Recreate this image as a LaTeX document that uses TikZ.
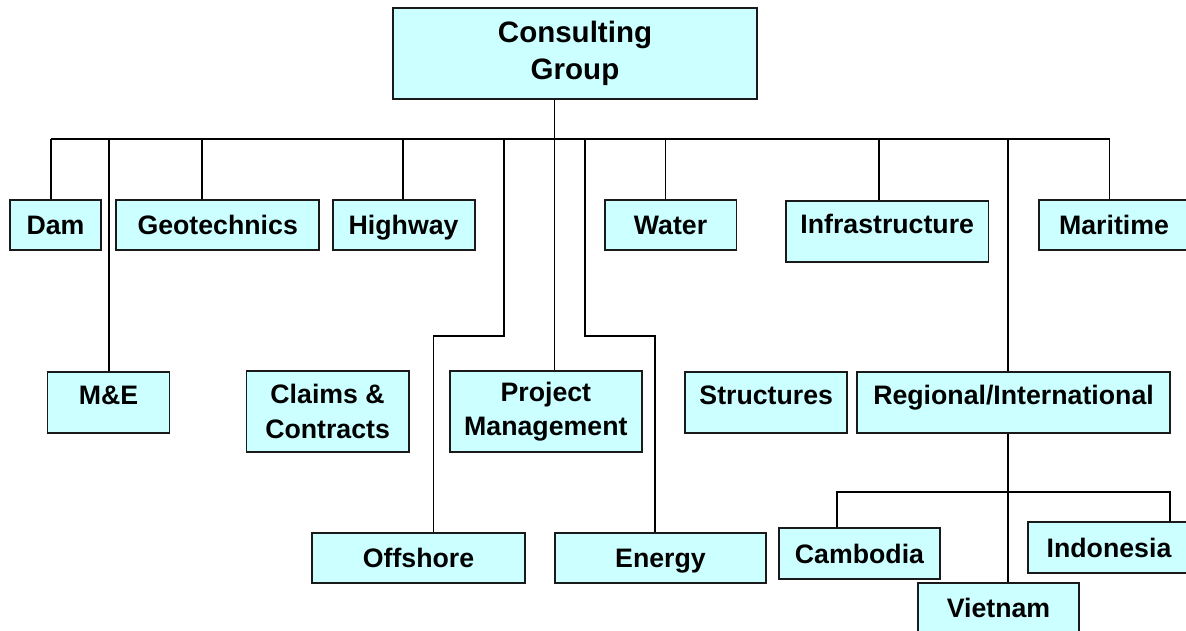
\documentclass[tikz,border=0pt]{standalone}
\usepackage{fontspec}
\setmainfont{Liberation Sans}
\definecolor{unitfill}{HTML}{CCFFFF}
\definecolor{unitline}{HTML}{1A1A1A}

\begin{document}
\begin{tikzpicture}[
    unit/.style={draw=unitline, line width=1.4pt, fill=unitfill, inner sep=0pt, align=center, font=\fontsize{19}{24.5}\selectfont\bfseries},
    oneline/.style={unit, minimum height=1.25cm, text height=13.6pt, text depth=0pt},
    twoline/.style={unit, minimum height=2.025cm},
    tallunit/.style={unit, anchor=north, text height=0.81cm, text depth=0.71cm},
    link/.style={line width=1pt, black}]
    \useasboundingbox (0,0) rectangle (29.65,15.775);
    \clip (0,0) rectangle (29.65,15.775);

    % Head of the group
    \node[unit, minimum width=9.1cm, minimum height=2.275cm, font=\fontsize{21}{26.5}\selectfont\bfseries] (top) at (14.375,14.4375) {Consulting\\Group};

    % First row of units
    \node[oneline, minimum width=2.295cm] (dam) at (1.3875,10.15) {Dam};
    \node[oneline, minimum width=5.07cm] (geo) at (5.4425,10.15) {Geotechnics};
    \node[oneline, minimum width=3.55cm] (hwy) at (10.09,10.15) {Highway};
    \node[oneline, minimum width=3.295cm] (wat) at (16.765,10.15) {Water};
    \node[tallunit, minimum width=5.065cm] (inf) at (22.18,10.775) {Infrastructure};
    \node[oneline, minimum width=3.775cm] (mar) at (27.85,10.15) {Maritime};

    % Second row of units
    \node[tallunit, minimum width=3.05cm] (me) at (2.7125,6.5) {M\&E};
    \node[twoline, minimum width=4.055cm] (claims) at (8.19,5.4875) {Claims \&\\Contracts};
    \node[twoline, minimum width=4.81cm] (pm) at (13.646,5.4875) {Project\\Management};
    \node[tallunit, minimum width=4.04cm] (str) at (19.156,6.5) {Structures};
    \node[tallunit, minimum width=7.825cm] (reg) at (25.3375,6.5) {Regional/International};

    % Bottom row and regional offices
    \node[oneline, minimum width=5.325cm] (off) at (10.4625,1.825) {Offshore};
    \node[oneline, minimum width=5.275cm] (en) at (16.5125,1.825) {Energy};
    \node[oneline, minimum width=4.025cm, minimum height=1.275cm] (cam) at (21.4875,1.9375) {Cambodia};
    \node[oneline, minimum width=4.05cm, minimum height=1.275cm] (ind) at (27.725,2.0875) {Indonesia};
    \node[oneline, minimum width=4.025cm] (viet) at (24.9625,0.575) {Vietnam};

    % Drop points on the main bus
    \coordinate (d-dam) at (1.275,12.3);
    \coordinate (d-me) at (2.725,12.3);
    \coordinate (d-geo) at (5.05,12.3);
    \coordinate (d-hwy) at (10.075,12.3);
    \coordinate (d-off) at (12.6,12.3);
    \coordinate (d-pm) at (13.86,12.3);
    \coordinate (d-en) at (14.625,12.3);
    \coordinate (d-wat) at (16.635,12.3);
    \coordinate (d-inf) at (21.97,12.3);
    \coordinate (d-reg) at (25.2,12.3);
    \coordinate (d-mar) at (27.74,12.3);

    % Bends and the regional bus
    \coordinate (k-off) at (10.84,7.375);
    \coordinate (k-en) at (16.375,7.375);
    \coordinate (s-cam) at (20.925,3.475);
    \coordinate (s-ind) at (29.25,3.475);

    % Main bus and drops
    \draw[link] (d-dam) -- (d-mar);
    \draw[link] (d-pm |- top.south) -- (d-pm |- pm.north);
    \draw[link] (d-dam) -- (d-dam |- dam.north);
    \draw[link] (d-me) -- (d-me |- me.north);
    \draw[link] (d-geo) -- (d-geo |- geo.north);
    \draw[link] (d-hwy) -- (d-hwy |- hwy.north);
    \draw[link] (d-wat) -- (d-wat |- wat.north);
    \draw[link] (d-inf) -- (d-inf |- inf.north);
    \draw[link] (d-mar) -- (d-mar |- mar.north);
    \draw[link] (d-reg) -- (d-reg |- reg.north);
    \draw[link] (d-off) |- (k-off) -- (k-off |- off.north);
    \draw[link] (d-en) |- (k-en) -- (k-en |- en.north);

    % Regional offices
    \draw[link] (d-reg |- reg.south) -- (d-reg |- viet.north);
    \draw[link] (s-cam |- cam.north) -- (s-cam) -- (s-ind) -- (s-ind |- ind.north);
\end{tikzpicture}
\end{document}
